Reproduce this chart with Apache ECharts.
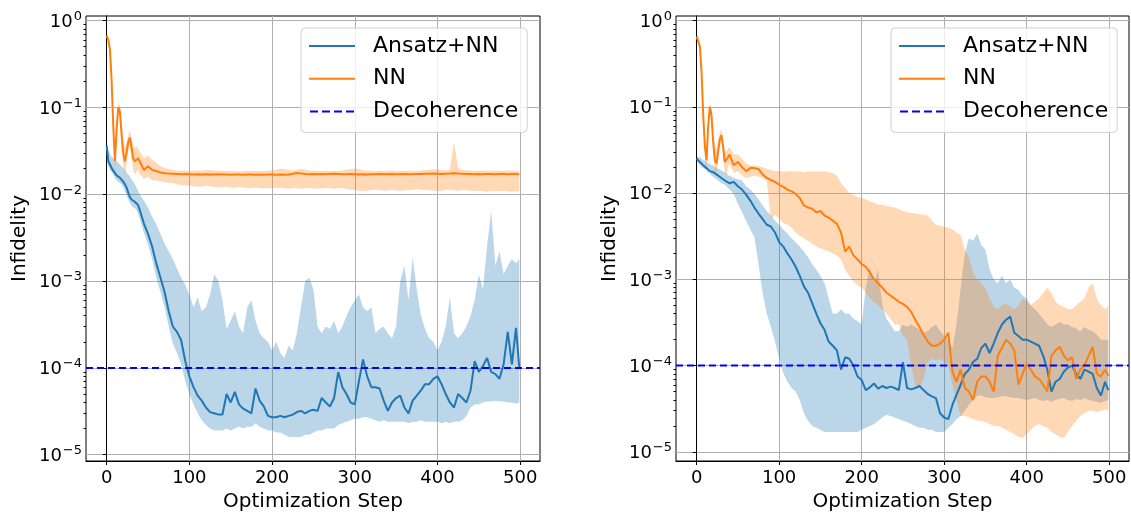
<!DOCTYPE html>
<html><head><meta charset="utf-8">
<script src="https://cdn.jsdelivr.net/npm/echarts@6/dist/echarts.min.js"></script>
<style>html,body{margin:0;padding:0;background:#fff}#c{width:1131px;height:517px}</style>
</head><body><div id="c"></div>
<script>
// ---------------- DATA ----------------
const steps = [0,2,4,6,8,10,12,14,16,18,20,22,24,26,28,30,32,34,36,38,40,
45,50,55,60,65,70,75,80,85,90,
95,100,105,110,115,120,125,130,135,140,
145,150,155,160,165,170,175,180,185,190,
195,200,205,210,215,220,225,230,235,240,
245,250,255,260,265,270,275,280,285,290,
295,300,305,310,315,320,325,330,335,340,
345,350,355,360,365,370,375,380,385,390,
395,400,405,410,415,420,425,430,435,440,
445,450,455,460,465,470,475,480,485,490,
495,499];

// Left panel: Ansatz+NN
const leftAnsatzMean = [0.036,0.024,0.022,0.020,0.019,0.0175,0.0165,0.016,0.0155,0.015,0.014,0.013,0.012,0.0105,0.0093,0.0087,0.0084,0.0082,0.008,0.0075,0.0066,
4.6e-3,3.5e-3,2.5e-3,1.6e-3,1.1e-3,7.5e-4,4.5e-4,3.0e-4,2.6e-4,2.1e-4,
1.2e-4,8.0e-5,6.0e-5,4.8e-5,4.2e-5,3.5e-5,3.1e-5,3.0e-5,2.9e-5,2.9e-5,
5.0e-5,4.0e-5,5.3e-5,3.8e-5,3.4e-5,3.2e-5,3.0e-5,5.8e-5,4.2e-5,3.6e-5,
2.8e-5,2.7e-5,2.7e-5,2.8e-5,2.7e-5,2.8e-5,2.9e-5,3.1e-5,3.2e-5,3.0e-5,
3.2e-5,3.3e-5,3.2e-5,4.5e-5,4.0e-5,3.6e-5,4.5e-5,9.0e-5,6.0e-5,5.0e-5,
4.0e-5,3.8e-5,7.0e-5,1.25e-4,8.0e-5,6.0e-5,6.0e-5,5.8e-5,4.2e-5,3.2e-5,
4.0e-5,4.5e-5,4.8e-5,3.5e-5,3.0e-5,4.2e-5,4.8e-5,5.5e-5,6.5e-5,6.5e-5,
7.5e-5,8.0e-5,6.5e-5,5.0e-5,4.0e-5,3.5e-5,5.0e-5,4.5e-5,4.0e-5,5.5e-5,
1.2e-4,9.0e-5,1.05e-4,1.3e-4,9.0e-5,8.5e-5,7.5e-5,1.1e-4,2.6e-4,1.1e-4,
2.9e-4,1.0e-4];
const leftAnsatzHigh = [0.04,0.032,0.029,0.027,0.026,0.025,0.024,0.023,0.022,0.021,0.02,0.019,0.018,0.017,0.016,0.015,0.014,0.013,0.012,0.011,0.01,
8.5e-3,7.0e-3,5.5e-3,4.5e-3,3.5e-3,2.7e-3,2.2e-3,1.8e-3,1.4e-3,1.1e-3,
9.0e-4,7.0e-4,5.0e-4,6.5e-4,4.5e-4,5.0e-4,7.0e-4,1.2e-3,1.0e-3,6.0e-4,
2.8e-4,3.5e-4,4.5e-4,3.0e-4,2.5e-4,5.0e-4,6.0e-4,3.5e-4,2.5e-4,2.2e-4,
2.0e-4,1.6e-4,2.0e-4,1.5e-4,1.3e-4,1.8e-4,1.6e-4,2.5e-4,5.0e-4,1.0e-3,
1.1e-3,8.0e-4,3.0e-4,2.5e-4,3.0e-4,2.8e-4,3.5e-4,2.5e-4,3.0e-4,4.0e-4,
5.0e-4,6.0e-4,7.0e-4,5.0e-4,4.5e-4,5.0e-4,2.5e-4,2.8e-4,3.0e-4,2.5e-4,
2.2e-4,3.0e-4,1.0e-3,1.5e-3,6.0e-4,1.9e-3,8.0e-4,4.0e-4,2.8e-4,2.2e-4,
2.0e-4,1.6e-4,2.0e-4,3.0e-4,6.5e-4,2.5e-4,2.2e-4,2.5e-4,3.0e-4,4.0e-4,
6.0e-4,1.2e-3,8.0e-4,2.5e-3,6.5e-3,1.5e-3,2.2e-3,1.2e-3,1.5e-3,1.8e-3,
1.6e-3,1.8e-3];
const leftAnsatzLow = [0.024,0.021,0.019,0.018,0.017,0.0155,0.0145,0.014,0.0135,0.013,0.012,0.011,0.0098,0.0088,0.008,0.0074,0.0071,0.0069,0.0066,0.006,0.0052,
3.6e-3,2.6e-3,1.8e-3,1.1e-3,7.5e-4,5.0e-4,3.0e-4,1.9e-4,1.5e-4,1.1e-4,
7.0e-5,5.0e-5,3.8e-5,3.0e-5,2.5e-5,2.2e-5,2.0e-5,1.9e-5,1.9e-5,1.9e-5,
2.0e-5,1.9e-5,2.0e-5,2.1e-5,2.0e-5,2.1e-5,2.1e-5,2.3e-5,2.1e-5,2.0e-5,
1.9e-5,1.9e-5,1.8e-5,1.8e-5,1.7e-5,1.6e-5,1.6e-5,1.6e-5,1.6e-5,1.7e-5,
1.7e-5,1.8e-5,1.9e-5,1.9e-5,2.0e-5,2.0e-5,2.0e-5,2.2e-5,2.3e-5,2.4e-5,
2.5e-5,2.6e-5,2.6e-5,2.7e-5,2.7e-5,2.6e-5,2.5e-5,2.4e-5,2.5e-5,2.4e-5,
2.4e-5,2.4e-5,2.4e-5,2.4e-5,2.3e-5,2.4e-5,2.4e-5,2.5e-5,2.4e-5,2.4e-5,
2.4e-5,2.4e-5,2.3e-5,2.4e-5,2.3e-5,2.4e-5,2.4e-5,2.5e-5,2.8e-5,3.5e-5,
3.8e-5,3.8e-5,4.0e-5,4.1e-5,4.1e-5,4.2e-5,4.1e-5,4.1e-5,4.0e-5,4.0e-5,
3.9e-5,4.0e-5];

// Left panel: NN
const leftNNMean = [0.67,0.6,0.46,0.2,0.06,0.024,0.055,0.1,0.09,0.05,0.03,0.024,0.03,0.04,0.045,0.035,0.026,0.024,0.025,0.026,0.024,
0.019,0.021,0.019,0.0185,0.0178,0.0175,0.0173,0.0172,0.0171,0.017,
0.0171,0.017,0.0169,0.017,0.0169,0.017,0.0169,0.0169,0.017,0.0169,
0.0169,0.0168,0.0169,0.0169,0.0168,0.0169,0.0169,0.0168,0.0169,0.0168,
0.0169,0.0169,0.0168,0.0169,0.0168,0.0169,0.0172,0.0176,0.0174,0.0171,
0.0170,0.0171,0.0170,0.0171,0.0170,0.0171,0.0172,0.0171,0.0170,0.0170,
0.0171,0.0170,0.0169,0.0170,0.0169,0.0170,0.0170,0.0171,0.0170,0.0170,
0.0171,0.0170,0.0170,0.0171,0.0170,0.0170,0.0171,0.0171,0.0172,0.0172,
0.0173,0.0172,0.0171,0.0172,0.0173,0.0175,0.0173,0.0172,0.0171,0.0171,
0.0170,0.0171,0.0170,0.0171,0.0171,0.0170,0.0171,0.0171,0.0170,0.0171,
0.0171,0.0170];
const leftNNHigh = [0.7,0.65,0.5,0.23,0.075,0.035,0.07,0.115,0.105,0.065,0.042,0.035,0.038,0.048,0.055,0.045,0.036,0.034,0.035,0.034,0.031,
0.026,0.028,0.025,0.023,0.021,0.02,0.0195,0.019,0.0188,0.0187,
0.0187,0.0185,0.0186,0.0187,0.0188,0.019,0.019,0.0188,0.0186,0.0185,
0.0185,0.0186,0.0185,0.0184,0.0185,0.0186,0.0185,0.0186,0.0185,0.0185,
0.0186,0.0188,0.0192,0.0198,0.0195,0.019,0.0188,0.0192,0.0196,0.0192,
0.0188,0.0186,0.0185,0.0185,0.0186,0.0185,0.0185,0.0186,0.0188,0.0192,
0.0196,0.0198,0.0195,0.019,0.0187,0.0186,0.0185,0.0186,0.0185,0.0186,
0.0186,0.0185,0.0186,0.0185,0.0186,0.0187,0.0186,0.0188,0.019,0.0192,
0.0195,0.0193,0.019,0.0188,0.019,0.04,0.02,0.0192,0.0189,0.0188,
0.0187,0.0186,0.0187,0.0188,0.0187,0.0186,0.0187,0.0187,0.0186,0.0187,
0.0186,0.0186];
const leftNNLow = [0.62,0.55,0.4,0.16,0.045,0.018,0.04,0.085,0.075,0.035,0.021,0.017,0.022,0.032,0.035,0.026,0.019,0.017,0.018,0.019,0.017,
0.015,0.016,0.0145,0.0145,0.014,0.0138,0.0135,0.0135,0.013,0.0128,
0.0127,0.0125,0.0124,0.0122,0.0123,0.0125,0.0124,0.0122,0.012,0.0121,
0.0122,0.012,0.0119,0.0121,0.012,0.0118,0.0119,0.012,0.0118,0.0117,
0.0118,0.0117,0.0118,0.0119,0.0117,0.0116,0.0118,0.0117,0.0116,0.0117,
0.0118,0.0117,0.0116,0.0117,0.0118,0.0117,0.0116,0.0117,0.0118,0.0115,
0.0113,0.0112,0.011,0.0108,0.011,0.0112,0.0113,0.0111,0.011,0.0111,
0.0112,0.0111,0.011,0.0111,0.0112,0.0113,0.0114,0.0113,0.0112,0.0111,
0.011,0.0109,0.011,0.0113,0.0112,0.0111,0.011,0.0112,0.0111,0.011,
0.0109,0.011,0.0108,0.0107,0.0109,0.0108,0.011,0.0109,0.0108,0.0107,
0.0108,0.0109];

// Right panel: Ansatz+NN
const rightAnsatzMean = [0.025,0.024,0.023,0.022,0.021,0.02,0.0195,0.019,0.018,0.0178,0.0175,0.017,0.0165,0.016,0.0155,0.015,0.0145,0.014,0.0137,0.0133,0.013,
0.0135,0.012,0.011,0.0096,0.0082,0.0068,0.0058,0.005,0.0043,0.0041,
0.0035,0.0027,0.0024,0.002,0.0017,0.0014,0.0011,8.3e-4,7.0e-4,5.3e-4,
4.0e-4,3.1e-4,2.6e-4,1.9e-4,1.7e-4,1.5e-4,9.0e-5,1.25e-4,1.2e-4,1.0e-4,
7.5e-5,6.8e-5,5.2e-5,5.6e-5,6.2e-5,5.4e-5,5.8e-5,5.5e-5,5.7e-5,5.5e-5,
5.2e-5,1.1e-4,5.5e-5,5.3e-5,5.5e-5,5.8e-5,5.2e-5,4.7e-5,4.4e-5,4.2e-5,
2.8e-5,2.5e-5,2.4e-5,3.5e-5,4.6e-5,6.0e-5,8.0e-5,9.0e-5,1.1e-4,1.2e-4,
1.6e-4,1.8e-4,1.4e-4,1.8e-4,2.4e-4,3.0e-4,3.4e-4,3.7e-4,2.4e-4,2.2e-4,
2.0e-4,2.0e-4,1.9e-4,1.8e-4,1.7e-4,1.3e-4,9.0e-5,5.0e-5,6.5e-5,7.0e-5,
8.5e-5,9.5e-5,1.0e-4,8.0e-5,7.0e-5,9.0e-5,8.5e-5,8.0e-5,5.5e-5,4.5e-5,
6.5e-5,5.2e-5];
const rightAnsatzHigh = [0.027,0.026,0.026,0.025,0.024,0.024,0.023,0.022,0.022,0.021,0.021,0.02,0.02,0.019,0.019,0.018,0.018,0.017,0.017,0.016,0.016,
0.015,0.0145,0.014,0.012,0.011,0.0098,0.0085,0.0072,0.0062,0.0055,
0.0048,0.0043,0.0038,0.0034,0.003,0.0027,0.0024,0.0021,0.0018,0.0015,
1.3e-3,1.1e-3,9.0e-4,6.0e-4,4.0e-4,4.0e-4,4.5e-4,4.0e-4,4.0e-4,3.5e-4,
3.3e-4,3.0e-4,8.0e-4,1.4e-3,9.0e-4,1.3e-3,5.0e-4,3.5e-4,3.0e-4,2.5e-4,
2.5e-4,3.0e-4,2.8e-4,3.0e-4,2.8e-4,2.6e-4,2.4e-4,2.5e-4,2.8e-4,3.0e-4,
2.5e-4,2.2e-4,2.0e-4,1.6e-4,3.0e-4,8.0e-4,2.0e-3,3.0e-3,2.8e-3,3.4e-3,
2.5e-3,2.2e-3,1.3e-3,1.0e-3,9.0e-4,1.1e-3,9.0e-4,1.0e-3,8.0e-4,7.6e-4,
6.5e-4,6.0e-4,5.0e-4,4.5e-4,4.0e-4,3.5e-4,3.0e-4,2.8e-4,3.0e-4,3.2e-4,
3.0e-4,3.0e-4,2.8e-4,2.7e-4,2.5e-4,2.8e-4,2.6e-4,2.5e-4,2.3e-4,2.0e-4,
2.0e-4,2.0e-4];
const rightAnsatzLow = [0.023,0.022,0.021,0.02,0.0195,0.019,0.018,0.0175,0.017,0.016,0.0155,0.015,0.0145,0.014,0.0135,0.013,0.0128,0.0125,0.012,0.0115,0.011,
0.0098,0.0075,0.006,0.0048,0.0038,0.0031,0.0015,7.0e-4,4.0e-4,2.8e-4,
1.9e-4,1.2e-4,8.2e-5,6.5e-5,5.5e-5,5.0e-5,4.0e-5,2.8e-5,2.3e-5,2.0e-5,
1.9e-5,1.8e-5,1.7e-5,1.7e-5,1.7e-5,1.7e-5,1.7e-5,1.7e-5,1.7e-5,1.7e-5,
1.7e-5,1.8e-5,1.9e-5,2.0e-5,2.1e-5,2.3e-5,2.5e-5,2.7e-5,2.6e-5,2.5e-5,
2.4e-5,2.3e-5,2.2e-5,2.1e-5,2.0e-5,1.9e-5,1.9e-5,1.8e-5,1.8e-5,1.7e-5,
1.7e-5,1.7e-5,1.9e-5,2.1e-5,2.4e-5,2.6e-5,3.0e-5,3.5e-5,4.0e-5,4.5e-5,
4.5e-5,4.3e-5,4.2e-5,4.2e-5,4.3e-5,4.4e-5,4.4e-5,4.3e-5,4.2e-5,4.2e-5,
4.1e-5,4.0e-5,4.1e-5,4.2e-5,4.0e-5,3.9e-5,4.0e-5,3.8e-5,4.0e-5,4.1e-5,
4.2e-5,4.0e-5,3.9e-5,4.1e-5,4.0e-5,4.2e-5,4.0e-5,3.9e-5,3.8e-5,3.7e-5,
3.9e-5,4.0e-5];

// Right panel: NN
const rightNNMean = [0.65,0.62,0.5,0.25,0.08,0.035,0.024,0.06,0.1,0.08,0.04,0.024,0.022,0.03,0.042,0.047,0.035,0.023,0.022,0.026,0.028,
0.021,0.023,0.02,0.018,0.0195,0.0195,0.019,0.0165,0.015,0.0142,
0.0135,0.0125,0.0118,0.011,0.0105,0.0098,0.0088,0.0072,0.0068,0.0066,
0.006,0.0062,0.0055,0.0052,0.0048,0.0044,0.0035,0.0021,0.0024,0.0019,
0.0017,0.0015,0.0014,0.0012,0.001,9.0e-4,8.0e-4,7.0e-4,6.5e-4,6.0e-4,
5.5e-4,5.2e-4,4.8e-4,4.2e-4,3.4e-4,2.8e-4,2.3e-4,1.9e-4,1.7e-4,1.7e-4,
1.8e-4,2.0e-4,2.4e-4,8.5e-5,6.5e-5,9.0e-5,5.5e-5,5.0e-5,4.0e-5,6.5e-5,
7.5e-5,7.5e-5,6.5e-5,5.0e-5,1.3e-4,1.6e-4,2.0e-4,1.8e-4,1.5e-4,6.0e-5,
8.0e-5,1.05e-4,9.0e-5,7.5e-5,7.0e-5,6.0e-5,5.0e-5,1.3e-4,1.5e-4,1.65e-4,
1.3e-4,1.15e-4,1.25e-4,7.0e-5,9.0e-5,1.0e-4,1.3e-4,1.65e-4,8.0e-5,7.5e-5,
9.0e-5,7.6e-5];
const rightNNHigh = [0.7,0.67,0.55,0.28,0.095,0.045,0.035,0.075,0.115,0.095,0.052,0.035,0.032,0.038,0.05,0.055,0.045,0.032,0.03,0.033,0.034,
0.028,0.028,0.025,0.022,0.021,0.021,0.0205,0.02,0.019,0.0185,
0.018,0.018,0.0178,0.0178,0.018,0.0178,0.0178,0.0175,0.0178,0.0178,
0.0178,0.0178,0.0178,0.0175,0.017,0.016,0.013,0.0115,0.0100,0.0095,
0.009,0.0088,0.0085,0.008,0.0077,0.0074,0.0073,0.0071,0.007,0.0068,
0.0065,0.0062,0.006,0.0059,0.0058,0.0057,0.0056,0.0055,0.0048,0.0043,
0.0042,0.0041,0.004,0.0038,0.0035,0.0033,0.0022,0.0018,0.0012,0.001,
9.0e-4,8.0e-4,6.0e-4,4.8e-4,4.5e-4,5.0e-4,5.2e-4,4.8e-4,4.5e-4,5.0e-4,
6.0e-4,5.5e-4,5.0e-4,5.5e-4,6.0e-4,7.0e-4,8.0e-4,7.0e-4,5.5e-4,5.0e-4,
4.8e-4,4.5e-4,4.5e-4,5.0e-4,5.5e-4,6.0e-4,8.0e-4,9.0e-4,6.0e-4,5.0e-4,
4.5e-4,5.0e-4];
const rightNNLow = [0.6,0.57,0.45,0.22,0.07,0.028,0.018,0.05,0.09,0.07,0.033,0.018,0.016,0.024,0.035,0.04,0.028,0.017,0.016,0.02,0.022,
0.017,0.018,0.016,0.015,0.0155,0.016,0.0155,0.015,0.014,0.005,
0.0056,0.005,0.0045,0.0043,0.004,0.0035,0.0032,0.003,0.0028,0.0026,
0.0024,0.0023,0.0022,0.0021,0.002,0.0019,0.0017,0.0013,0.0011,9.5e-4,
8.5e-4,8.0e-4,7.0e-4,6.0e-4,5.5e-4,5.0e-4,4.5e-4,4.0e-4,3.5e-4,3.0e-4,
3.0e-4,2.2e-4,2.0e-4,1.0e-4,6.0e-5,5.5e-5,7.0e-5,1.1e-4,1.2e-4,1.15e-4,
1.2e-4,1.1e-4,1.0e-4,6.0e-5,4.0e-5,2.6e-5,2.6e-5,2.5e-5,2.4e-5,2.3e-5,
2.3e-5,2.2e-5,2.1e-5,2.0e-5,2.0e-5,1.9e-5,1.8e-5,1.7e-5,1.6e-5,1.5e-5,
1.45e-5,1.6e-5,1.8e-5,2.0e-5,2.1e-5,2.0e-5,1.9e-5,1.7e-5,1.6e-5,1.5e-5,
1.45e-5,1.7e-5,2.0e-5,2.3e-5,2.6e-5,2.8e-5,3.0e-5,3.0e-5,2.9e-5,3.0e-5,
3.1e-5,3.0e-5];

const decoherenceLevel = 1e-4;
const xLimits = [-25, 524];
const xTickLabels = [0, 100, 200, 300, 400, 500];
const yTickLabels = [1e-5, 1e-4, 1e-3, 1e-2, 1e-1, 1e0];
const legendNames = ['Ansatz+NN', 'NN', 'Decoherence'];

// ---------------- STYLE / BUILD ----------------
const FONT = 'DejaVu Sans';
const BLUE = '#1f77b4', ORANGE = '#ff7f0e', DBLUE = '#0000ff';
const BLUE_FILL = 'rgba(31,119,180,0.3)', ORANGE_FILL = 'rgba(255,127,14,0.3)';
const GRIDC = '#b0b0b0';
const SOLID_ICON = 'path://M0 0H46V2H0Z';
const DASH_ICON = 'path://M0 0H8V2H0Z M12 0H20V2H12Z M24 0H32V2H24Z M36 0H44V2H36Z';

// sub-decade tick positions (2..9 x 10^e) for the log axis
const yMinorTicks = [];
for (let e = -5; e < 0; e++) for (let m = 2; m <= 9; m++) yMinorTicks.push(m * Math.pow(10, e));

function supLabel(v) {
  const e = Math.round(Math.log10(v));
  return '{b|10}{s|' + (e < 0 ? '\u2212' + (-e) : String(e)) + '}';
}

const grids = [
  { left: 86, top: 16, width: 454, height: 451, ymin: Math.pow(10, -5.072), ymax: Math.pow(10, 0.053), legendLeft: 301 },
  { left: 676, top: 16, width: 453, height: 450, ymin: Math.pow(10, -5.106), ymax: Math.pow(10, 0.054), legendLeft: 891 }
];

const option = {
  animation: false,
  backgroundColor: '#fff',
  textStyle: { fontFamily: FONT },
  grid: grids.map(g => ({ left: g.left, top: g.top, width: g.width, height: g.height, show: true, borderColor: '#000', borderWidth: 1, backgroundColor: 'transparent' })),
  xAxis: grids.map((g, i) => ({
    type: 'value', gridIndex: i, min: xLimits[0], max: xLimits[1],
    axisLine: { show: true, onZero: false, lineStyle: { color: '#000', width: 1 } },
    axisTick: { show: true, length: 4, customValues: xTickLabels, lineStyle: { color: '#000' } },
    axisLabel: { customValues: xTickLabels, fontSize: 18, color: '#000', fontFamily: FONT, margin: 8 },
    splitLine: { show: true, lineStyle: { color: GRIDC, width: 1 } },
    name: 'Optimization Step', nameLocation: 'middle', nameGap: 31,
    nameTextStyle: { fontSize: 20, color: '#000', fontFamily: FONT }
  })),
  yAxis: [],
  legend: grids.map(g => ({
    orient: 'vertical', left: g.legendLeft, top: 28,
    itemWidth: 46, itemHeight: 2, itemGap: 10.7,
    padding: [7, 9, 10, 8],
    backgroundColor: 'rgba(255,255,255,0.8)', borderColor: '#d0d0d0', borderWidth: 1, borderRadius: 4,
    textStyle: { fontSize: 22, color: '#000', fontFamily: FONT, lineHeight: 22, padding: [0, 0, 0, 13] },
    data: [
      { name: legendNames[0], icon: SOLID_ICON, itemStyle: { color: BLUE } },
      { name: legendNames[1], icon: SOLID_ICON, itemStyle: { color: ORANGE } },
      { name: legendNames[2], icon: DASH_ICON, itemStyle: { color: DBLUE } }
    ]
  })),
  series: []
};

grids.forEach((g, i) => {
  option.yAxis.push({
    type: 'log', logBase: 10, gridIndex: i, min: g.ymin, max: g.ymax, position: 'left',
    axisLine: { show: true, lineStyle: { color: '#000', width: 1 } },
    axisTick: { show: true, length: 4, customValues: yTickLabels, lineStyle: { color: '#000' } },
    axisLabel: {
      customValues: yTickLabels, margin: 4, color: '#000', formatter: supLabel,
      rich: {
        b: { fontSize: 18, fontFamily: FONT, color: '#000', verticalAlign: 'bottom' },
        s: { fontSize: 13, fontFamily: FONT, color: '#000', verticalAlign: 'bottom', padding: [0, 0, 8, 1] }
      }
    },
    splitLine: { show: true, lineStyle: { color: GRIDC, width: 1 } },
    minorTick: { show: false }, minorSplitLine: { show: false },
    name: 'Infidelity', nameLocation: 'middle', nameGap: 56,
    nameTextStyle: { fontSize: 20, color: '#000', fontFamily: FONT }
  });
  // secondary log axis on the same spine, only for the sub-decade ticks
  option.yAxis.push({
    type: 'log', logBase: 10, gridIndex: i, min: g.ymin, max: g.ymax, position: 'left', offset: 0,
    axisLine: { show: true, lineStyle: { color: 'rgba(0,0,0,0)', width: 1 } },
    axisTick: { show: true, length: 2.5, customValues: yMinorTicks, lineStyle: { color: '#000', width: 1 } },
    axisLabel: { show: false }, splitLine: { show: false }, minorTick: { show: false }
  });
});

function band(xi, yi, lo, hi, fill) {
  return {
    type: 'custom', xAxisIndex: xi, yAxisIndex: yi, silent: true, clip: true, z: 1,
    data: [[steps[0], hi[0]]],
    renderItem: function (params, api) {
      const pts = [];
      for (let k = 0; k < steps.length; k++) pts.push(api.coord([steps[k], hi[k]]));
      for (let k = steps.length - 1; k >= 0; k--) pts.push(api.coord([steps[k], lo[k]]));
      return { type: 'polygon', shape: { points: pts }, style: { fill: fill, stroke: null } };
    }
  };
}
function meanLine(name, xi, yi, vals, color, z) {
  return {
    name: name, type: 'line', xAxisIndex: xi, yAxisIndex: yi, z: z,
    data: steps.map((s, k) => [s, vals[k]]),
    symbol: 'none', showSymbol: false, color: color,
    lineStyle: { color: color, width: 2 }
  };
}
function decoherence(xi, yi) {
  return {
    name: 'Decoherence', type: 'line', xAxisIndex: xi, yAxisIndex: yi, z: 5,
    data: xLimits.map(x => [x, decoherenceLevel]),
    symbol: 'none', showSymbol: false, color: DBLUE,
    lineStyle: { color: DBLUE, width: 2, type: [7, 4] }
  };
}

const panels = [
  { a: [leftAnsatzMean, leftAnsatzLow, leftAnsatzHigh], n: [leftNNMean, leftNNLow, leftNNHigh] },
  { a: [rightAnsatzMean, rightAnsatzLow, rightAnsatzHigh], n: [rightNNMean, rightNNLow, rightNNHigh] }
];
panels.forEach((p, i) => {
  const yi = i * 2;
  option.series.push(band(i, yi, p.a[1], p.a[2], BLUE_FILL));
  option.series.push(band(i, yi, p.n[1], p.n[2], ORANGE_FILL));
  option.series.push(meanLine('Ansatz+NN', i, yi, p.a[0], BLUE, 3));
  option.series.push(meanLine('NN', i, yi, p.n[0], ORANGE, 4));
  option.series.push(decoherence(i, yi));
});

const chart = echarts.init(document.getElementById('c'), null, { renderer: 'canvas' });
chart.setOption(option);
</script>
</body></html>
